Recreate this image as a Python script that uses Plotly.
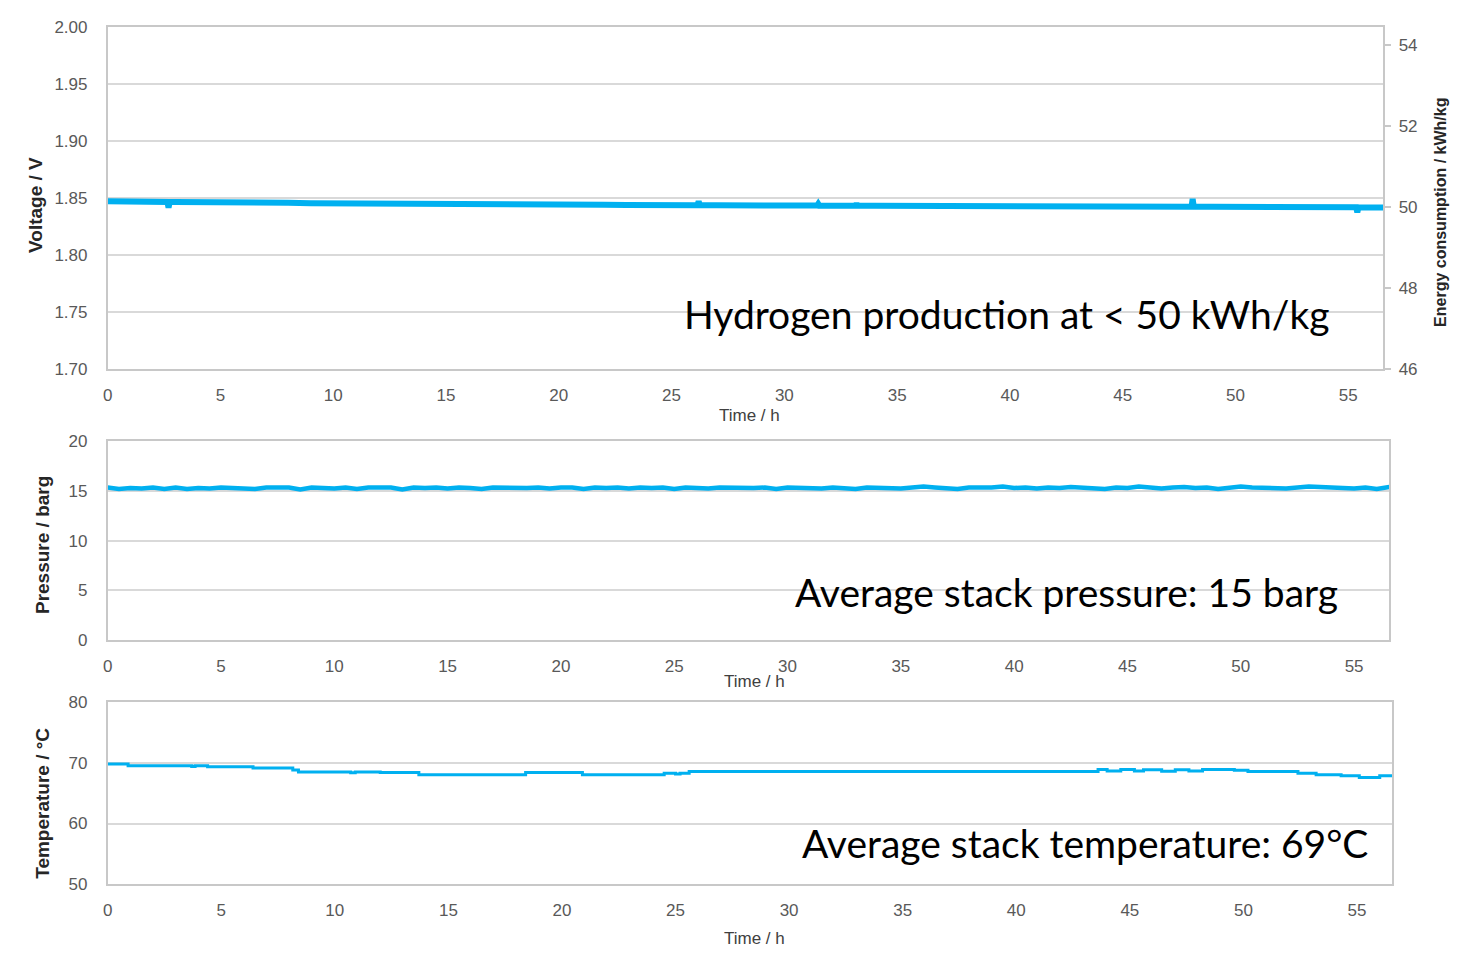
import plotly.graph_objects as go

# ---------------- data ----------------
volt_time = [0, 1, 2, 2.65, 2.7, 2.75, 3, 4, 5, 6, 7, 8, 9, 10, 11, 12, 13, 14, 15, 16,
             17, 18, 19, 20, 21, 22, 23, 24, 25, 26.15, 26.2, 26.25, 27, 28, 29, 30,
             31, 31.45, 31.5, 31.55, 32, 33, 33.15, 33.2, 33.25, 34, 35, 36, 37, 38,
             39, 40, 41, 42, 43, 44, 45, 46, 47, 48.05, 48.1, 48.15, 49, 50, 51, 52,
             53, 54, 55, 55.35, 55.4, 55.45, 56, 56.55]
voltage = [1.8468, 1.8466, 1.8465, 1.8463, 1.8412, 1.8462, 1.8462, 1.8463, 1.8462, 1.8461,
           1.8459, 1.8455, 1.8452, 1.8450, 1.8447, 1.8446, 1.8444, 1.8442, 1.8443, 1.8441,
           1.8440, 1.8439, 1.8440, 1.8438, 1.8437, 1.8437, 1.8436, 1.8436, 1.8436, 1.8434,
           1.8468, 1.8434, 1.8433, 1.8432, 1.8432, 1.8431, 1.8431, 1.8431, 1.8446, 1.8430,
           1.8430, 1.8430, 1.8430, 1.8448, 1.8429, 1.8429, 1.8429, 1.8428, 1.8427, 1.8426,
           1.8426, 1.8425, 1.8425, 1.8424, 1.8424, 1.8423, 1.8423, 1.8422, 1.8422, 1.8421,
           1.8488, 1.8421, 1.8421, 1.8420, 1.8420, 1.8419, 1.8418, 1.8417, 1.8416, 1.8416,
           1.8372, 1.8415, 1.8414, 1.8414]

energy_ticks = [46, 48, 50, 52, 54]

press_time = [0, 0.5, 1, 1.5, 2, 2.5, 3, 3.5, 4, 4.5, 5, 5.5, 6, 6.5, 7, 7.5, 8, 8.5, 9,
              9.5, 10, 10.5, 11, 11.5, 12, 12.5, 13, 13.5, 14, 14.5, 15, 15.5, 16, 16.5,
              17, 17.5, 18, 18.5, 19, 19.5, 20, 20.5, 21, 21.5, 22, 22.5, 23, 23.5, 24,
              24.5, 25, 25.5, 26, 26.5, 27, 27.5, 28, 28.5, 29, 29.5, 30, 30.5, 31, 31.5,
              32, 32.5, 33, 33.5, 34, 34.5, 35, 35.5, 36, 36.5, 37, 37.5, 38, 38.5, 39,
              39.5, 40, 40.5, 41, 41.5, 42, 42.5, 43, 43.5, 44, 44.5, 45, 45.5, 46, 46.5,
              47, 47.5, 48, 48.5, 49, 49.5, 50, 50.5, 51, 51.5, 52, 52.5, 53, 53.5, 54,
              54.5, 55, 55.5, 56, 56.55]
pressure = [15.35, 15.20, 15.30, 15.25, 15.35, 15.20, 15.35, 15.20, 15.30, 15.25, 15.35,
            15.30, 15.35, 15.20, 15.35, 15.30, 15.35, 15.15, 15.35, 15.30, 15.25, 15.35,
            15.20, 15.35, 15.30, 15.35, 15.15, 15.35, 15.30, 15.35, 15.25, 15.35, 15.30,
            15.20, 15.35, 15.30, 15.35, 15.30, 15.35, 15.25, 15.35, 15.35, 15.20, 15.35,
            15.30, 15.35, 15.25, 15.35, 15.30, 15.35, 15.20, 15.35, 15.30, 15.25, 15.35,
            15.30, 15.35, 15.30, 15.35, 15.20, 15.35, 15.30, 15.35, 15.25, 15.35, 15.30,
            15.20, 15.35, 15.30, 15.35, 15.25, 15.35, 15.45, 15.35, 15.30, 15.20, 15.35,
            15.30, 15.35, 15.45, 15.30, 15.35, 15.25, 15.35, 15.30, 15.40, 15.35, 15.30,
            15.20, 15.35, 15.30, 15.45, 15.35, 15.25, 15.35, 15.40, 15.30, 15.35, 15.20,
            15.35, 15.45, 15.35, 15.30, 15.35, 15.25, 15.35, 15.45, 15.40, 15.35, 15.30,
            15.25, 15.35, 15.20, 15.40]

temp_time = [0, 0.9, 3.7, 3.85, 4.4, 6.4, 8.15, 8.4, 10.7, 10.9, 12.0, 13.7, 18.4,
             20.9, 24.5, 25.0, 25.2, 25.6, 43.6, 44.0, 44.6, 45.2, 45.6, 46.4, 47.0,
             47.6, 48.2, 49.6, 50.2, 52.4, 53.2, 54.3, 55.1, 56.0, 56.55]
temperature = [69.78, 69.52, 69.38, 69.52, 69.35, 69.14, 68.82, 68.49, 68.35, 68.49,
               68.39, 68.01, 68.39, 68.01, 68.28, 68.15, 68.28, 68.55, 68.88, 68.62,
               68.88, 68.62, 68.85, 68.60, 68.85, 68.62, 68.90, 68.78, 68.55, 68.28,
               68.01, 67.85, 67.58, 67.85, 67.85]

x_ticks = [0, 5, 10, 15, 20, 25, 30, 35, 40, 45, 50, 55]

# ---------------- figure ----------------
W, H = 1458, 957
BLUE = "#00B0F0"
TICKFONT = dict(family="Liberation Sans, Arial", size=17, color="#595959")
TITLEFONT = dict(family="Liberation Sans, Arial", size=19, color="#262626")
BIGFONT = dict(family="Lato, Noto Sans, sans-serif", size=39, color="#000000")
GRID = "#d9d9d9"
BORDER = "#c8c8c8"


def px(x):
    return x / W


def py(y):
    return 1 - y / H


fig = go.Figure()
fig.add_trace(go.Scatter(x=volt_time, y=voltage, mode="lines", xaxis="x", yaxis="y",
                         line=dict(color=BLUE, width=6), showlegend=False))
fig.add_trace(go.Scatter(x=[], y=[], mode="lines", xaxis="x", yaxis="y4",
                         showlegend=False, hoverinfo="skip"))
fig.add_trace(go.Scatter(x=press_time, y=pressure, mode="lines", xaxis="x2", yaxis="y2",
                         line=dict(color=BLUE, width=4.5), showlegend=False))
fig.add_trace(go.Scatter(x=temp_time, y=temperature, mode="lines", xaxis="x3", yaxis="y3",
                         line=dict(color=BLUE, width=3, shape="hv"), showlegend=False))

xcommon = dict(range=[0, 56.55], tickvals=x_ticks, showgrid=False, showline=True,
               linecolor=BORDER, linewidth=1.5, mirror=True, ticks="", zeroline=False,
               tickfont=TICKFONT, ticklabelstandoff=10, fixedrange=True)
ycommon = dict(showgrid=True, gridcolor=GRID, gridwidth=1.5, showline=True,
               linecolor=BORDER, linewidth=1.5, mirror=True, ticks="", zeroline=False,
               tickfont=TICKFONT, ticklabelstandoff=15, fixedrange=True)

fig.update_layout(
    width=W, height=H,
    margin=dict(l=0, r=0, t=0, b=0),
    paper_bgcolor="white", plot_bgcolor="white",
    showlegend=False,
    xaxis=dict(domain=[px(103), px(1383)], anchor="y", **xcommon),
    yaxis=dict(domain=[py(367), py(18)], anchor="x", range=[1.70, 2.00],
               tickvals=[1.70, 1.75, 1.80, 1.85, 1.90, 1.95, 2.00], tickformat=".2f",
               **ycommon),
    yaxis4=dict(overlaying="y", side="right", anchor="x", range=[46, 54.46],
                tickvals=energy_ticks, showgrid=False, showline=False, zeroline=False,
                ticks="outside", ticklen=7, tickcolor=BORDER, tickwidth=1.5,
                tickfont=TICKFONT, ticklabelstandoff=4, fixedrange=True),
    xaxis2=dict(domain=[px(103), px(1389)], anchor="y2", **xcommon),
    yaxis2=dict(domain=[py(644), py(441)], anchor="x2", range=[0, 20],
                tickvals=[0, 5, 10, 15, 20], **ycommon),
    xaxis3=dict(domain=[px(103), px(1392)], anchor="y3", **xcommon),
    yaxis3=dict(domain=[py(893), py(707)], anchor="x3", range=[50, 80],
                tickvals=[50, 60, 70, 80], **ycommon),
)

annotations = [
    # axis titles
    dict(text="<b>Voltage / V</b>", x=px(30), y=py(200), textangle=-90, font=TITLEFONT),
    dict(text="<b>Energy consumption / kWh/kg</b>", x=px(1441), y=py(208), textangle=-90,
         font=dict(family="Liberation Sans, Arial", size=16, color="#262626")),
    dict(text="<b>Pressure / barg</b>", x=px(37), y=py(547), textangle=-90, font=TITLEFONT),
    dict(text="<b>Temperature / °C</b>", x=px(38), y=py(810), textangle=-90, font=TITLEFONT),
    dict(text="Time / h", x=px(747), y=py(415), font=dict(TICKFONT, color="#404040")),
    dict(text="Time / h", x=px(752), y=py(686), font=dict(TICKFONT, color="#404040")),
    dict(text="Time / h", x=px(752), y=py(948), font=dict(TICKFONT, color="#404040")),
    # in-plot statements
    dict(text="Hydrogen production at < 50 kWh/kg", x=px(1005), y=py(311), font=BIGFONT),
    dict(text="Average stack pressure: 15 barg", x=px(1065), y=py(595), font=BIGFONT),
    dict(text="Average stack temperature: 69°C", x=px(1084), y=py(851), font=BIGFONT),
]
for a in annotations:
    a.update(xref="paper", yref="paper", showarrow=False, xanchor="center", yanchor="middle")
fig.update_layout(annotations=annotations)

fig.write_html(
    "out.html",
    config={"displayModeBar": False},
    post_script="document.body.style.margin='0';document.body.style.overflow='hidden';",
)
